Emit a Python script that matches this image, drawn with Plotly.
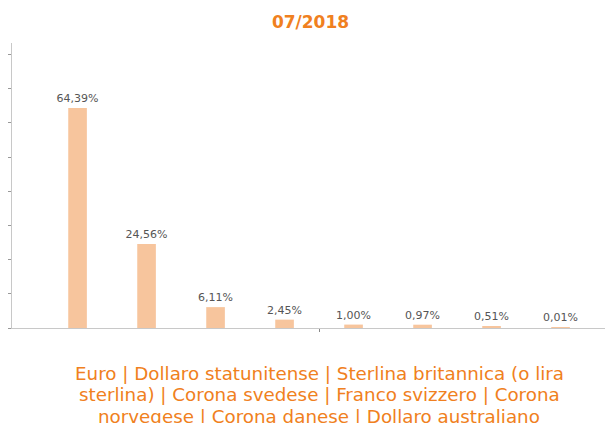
import textwrap
import plotly.graph_objects as go

titolo = "07/2018"
valute = ["Euro", "Dollaro statunitense", "Sterlina britannica (o lira sterlina)",
          "Corona svedese", "Franco svizzero", "Corona norvegese",
          "Corona danese", "Dollaro australiano"]
quote = [64.39, 24.56, 6.11, 2.45, 1.00, 0.97, 0.51, 0.01]
etichette = ["64,39%", "24,56%", "6,11%", "2,45%", "1,00%", "0,97%", "0,51%", "0,01%"]

ARANCIO = "#F08020"
BARRA = "#F7C59D"

# the page body has an 8px margin, so the figure is 8px smaller than the window
W, H = 605, 415

fig = go.Figure()
fig.add_trace(go.Bar(
    x=list(range(len(valute))), y=quote, width=0.27,
    marker=dict(color=BARRA, line=dict(width=0)),
    text=etichette, textposition="outside", cliponaxis=False, constraintext="none",
    textfont=dict(family="DejaVu Sans", size=11, color="#555555"),
    hovertext=valute, showlegend=False,
))

# category caption under the axis, centred on the group (tick at 3.5)
centro = (len(valute) - 1) / 2
righe = textwrap.wrap(" | ".join(valute), width=57)
for i, riga in enumerate(righe):
    fig.add_annotation(text=riga, xref="x", yref="paper",
                       x=centro, y=-(45 + 21.5 * i) / 285, xanchor="center", yanchor="middle",
                       showarrow=False,
                       font=dict(family="DejaVu Sans", size=18.3, color=ARANCIO))

fig.update_layout(
    width=W, height=H, margin=dict(l=4, r=0, t=35, b=95),
    plot_bgcolor="white", paper_bgcolor="white",
    title=dict(text="<b>" + titolo + "</b>", x=0.5, xanchor="center",
               y=1 - 14 / H, yanchor="middle",
               font=dict(family="DejaVu Sans", size=17, color=ARANCIO)),
)
fig.update_xaxes(range=[-0.95, 7.76], showgrid=False, zeroline=False,
                 showline=True, linecolor="#C8C8C8", linewidth=1,
                 tickvals=[centro], ticktext=[""], ticks="outside", ticklen=3,
                 tickcolor="#888888")
fig.update_yaxes(range=[0, 83.4], showgrid=False, zeroline=False,
                 showline=True, linecolor="#C8C8C8", linewidth=1,
                 dtick=10, ticks="outside", ticklen=3, tickcolor="#999999",
                 showticklabels=False)

fig.write_html("out.html")
